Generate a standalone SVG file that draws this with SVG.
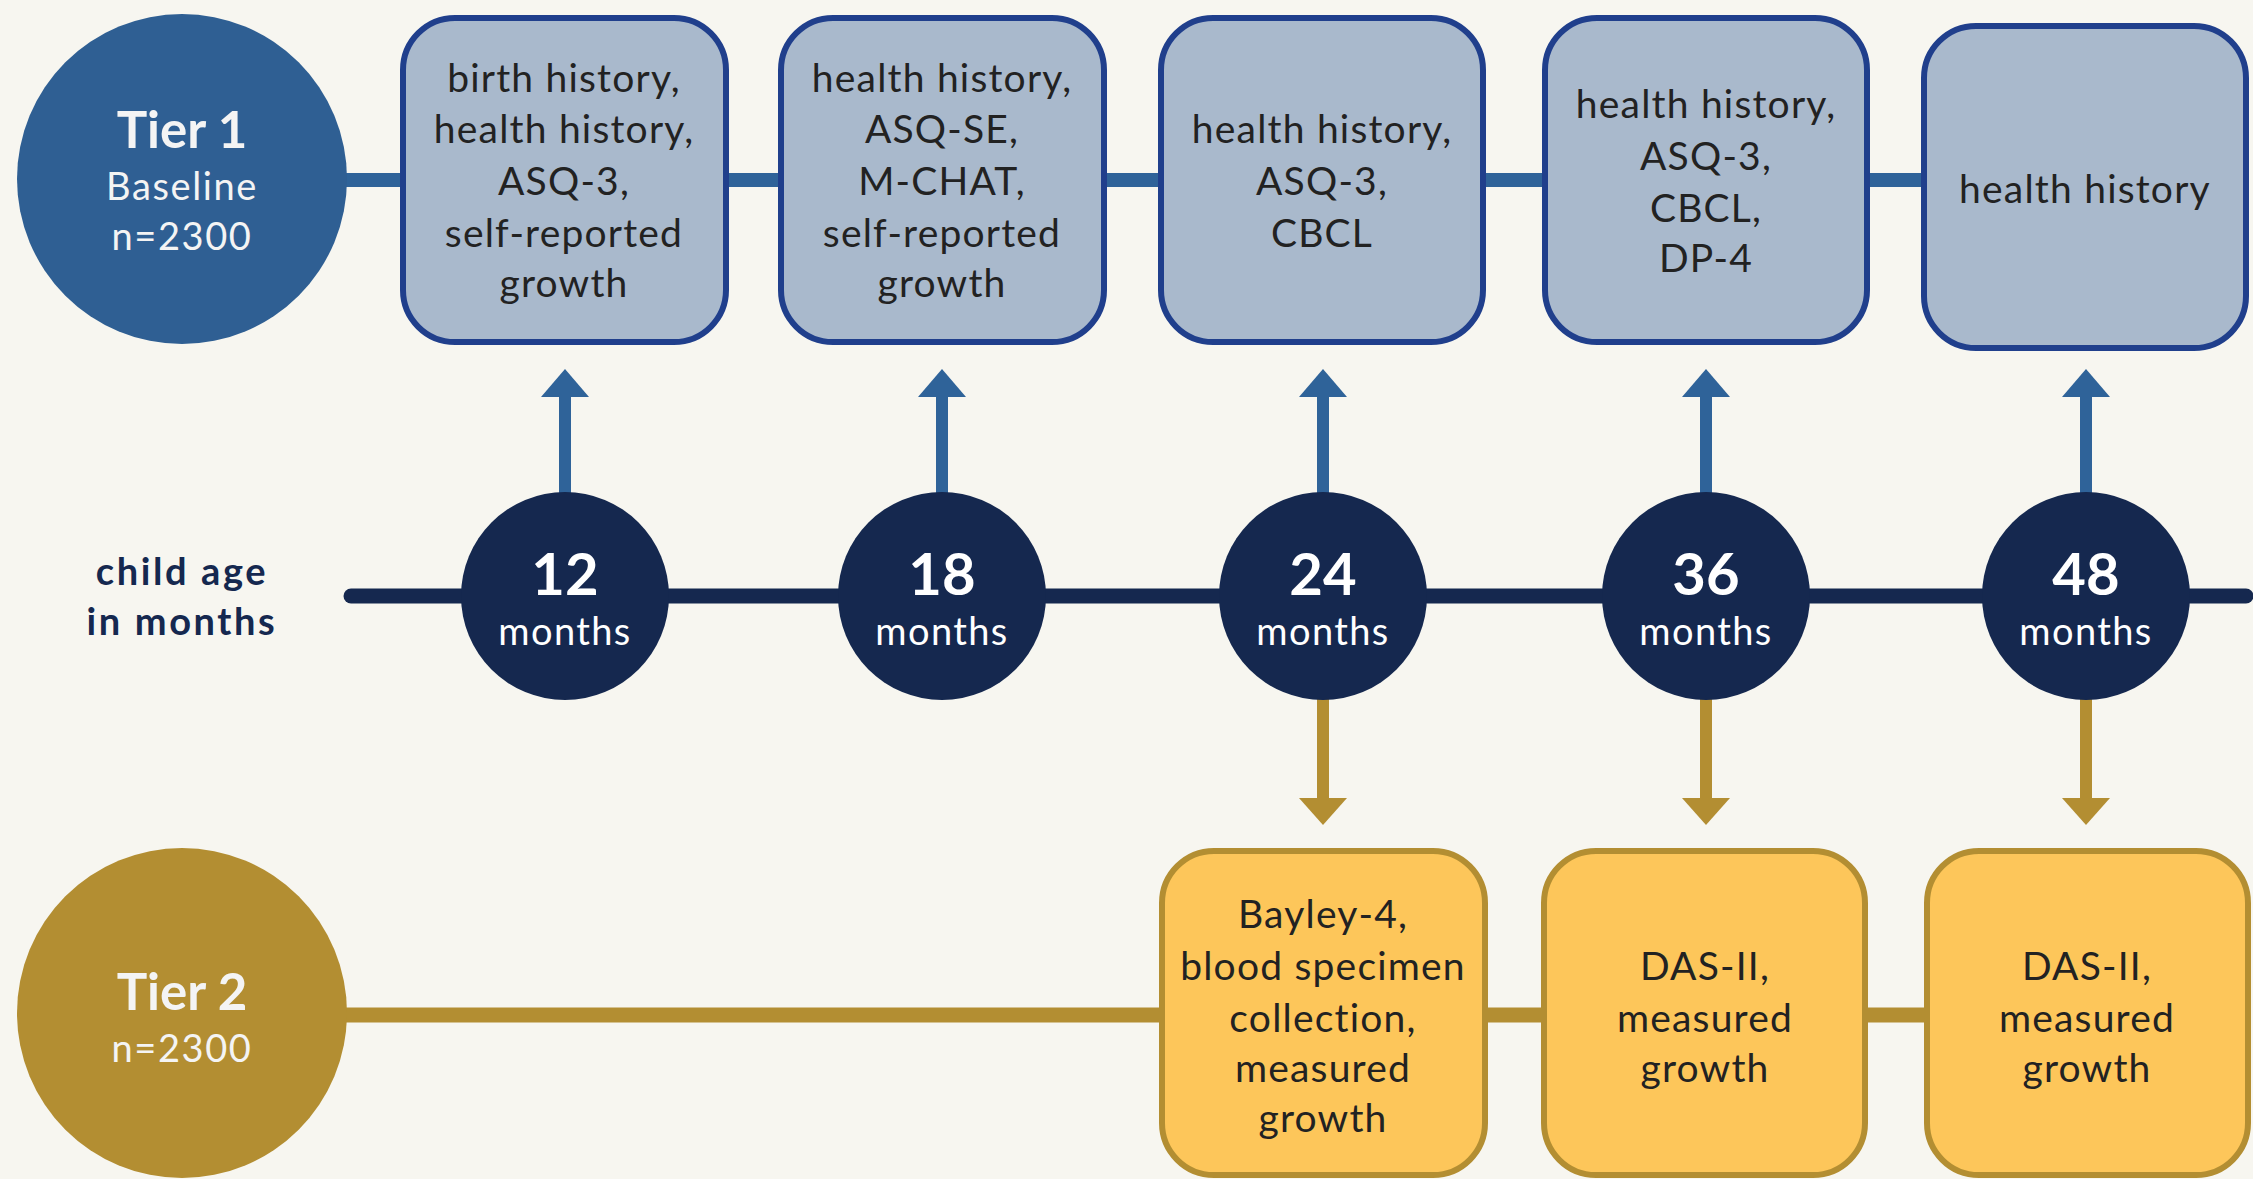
<svg xmlns="http://www.w3.org/2000/svg" width="2253" height="1179" viewBox="0 0 2253 1179">
<defs>
<style>
.bg{fill:#f7f6f0}
.tier1{fill:#2f5f93}
.tier2{fill:#b38e32}
.box1{fill:#a9b9cc;stroke:#203f8c;stroke-width:6}
.box2{fill:#fdc65a;stroke:#b38e32;stroke-width:6}
.age{fill:#15284f}
.t{font-family:Lato,"Liberation Sans",sans-serif;font-size:39px;letter-spacing:1.2px;fill:#222;text-anchor:middle}
.tw{font-family:Lato,"Liberation Sans",sans-serif;fill:#f4f4f4;text-anchor:middle}
.big{font-size:51px;font-weight:bold}
.sm{font-size:38px;letter-spacing:1.6px}
.num{font-family:Lato,"Liberation Sans",sans-serif;font-size:58px;font-weight:bold;fill:#fff;text-anchor:middle}
.mo{font-family:Lato,"Liberation Sans",sans-serif;font-size:38px;letter-spacing:1.4px;fill:#fff;text-anchor:middle}
.lbl{font-family:Lato,"Liberation Sans",sans-serif;font-size:38px;letter-spacing:2.6px;font-weight:bold;fill:#15284f;text-anchor:middle}
.upl{stroke:#2f6399;stroke-width:12}
.upa{fill:#2f6399}
.dnl{stroke:#b38e32;stroke-width:12}
.dna{fill:#b38e32}
</style>
</defs>
<rect class="bg" x="0" y="0" width="2253" height="1179"/>
<g id="connectors">
<line x1="340" y1="180" x2="1925" y2="180" stroke="#2f6399" stroke-width="14"/>
<line x1="340" y1="1015" x2="1928" y2="1015" stroke="#b38e32" stroke-width="15"/>
<line x1="351" y1="596" x2="2246" y2="596" stroke="#15284f" stroke-width="15" stroke-linecap="round"/>
<line class="upl" x1="565" y1="495" x2="565" y2="395"/><polygon class="upa" points="541,397 589,397 565,369"/>
<line class="upl" x1="942" y1="495" x2="942" y2="395"/><polygon class="upa" points="918,397 966,397 942,369"/>
<line class="upl" x1="1323" y1="495" x2="1323" y2="395"/><polygon class="upa" points="1299,397 1347,397 1323,369"/>
<line class="upl" x1="1706" y1="495" x2="1706" y2="395"/><polygon class="upa" points="1682,397 1730,397 1706,369"/>
<line class="upl" x1="2086" y1="495" x2="2086" y2="395"/><polygon class="upa" points="2062,397 2110,397 2086,369"/>
<line class="dnl" x1="1323" y1="697" x2="1323" y2="800"/><polygon class="dna" points="1299,798 1347,798 1323,825"/>
<line class="dnl" x1="1706" y1="697" x2="1706" y2="800"/><polygon class="dna" points="1682,798 1730,798 1706,825"/>
<line class="dnl" x1="2086" y1="697" x2="2086" y2="800"/><polygon class="dna" points="2062,798 2110,798 2086,825"/>
</g>
<g id="tier1">
<circle class="tier1" cx="182" cy="179" r="165"/>
<text class="tw big" x="182" y="148">Tier 1</text>
<text class="tw sm" x="182" y="200">Baseline</text>
<text class="tw sm" x="182" y="250">n=2300</text>
</g>
<g id="tier2">
<circle class="tier2" cx="182" cy="1013" r="165"/>
<text class="tw big" x="182" y="1010" fill="#fdf3dc">Tier 2</text>
<text class="tw sm" x="182" y="1062">n=2300</text>
</g>
<g id="age-label">
<text class="lbl" x="182" y="585">child age</text>
<text class="lbl" x="182" y="635">in months</text>
</g>
<g id="m12"><circle class="age" cx="565" cy="596" r="104"/><text class="num" x="565" y="595">12</text><text class="mo" x="565" y="645">months</text></g>
<g id="m18"><circle class="age" cx="942" cy="596" r="104"/><text class="num" x="942" y="595">18</text><text class="mo" x="942" y="645">months</text></g>
<g id="m24"><circle class="age" cx="1323" cy="596" r="104"/><text class="num" x="1323" y="595">24</text><text class="mo" x="1323" y="645">months</text></g>
<g id="m36"><circle class="age" cx="1706" cy="596" r="104"/><text class="num" x="1706" y="595">36</text><text class="mo" x="1706" y="645">months</text></g>
<g id="m48"><circle class="age" cx="2086" cy="596" r="104"/><text class="num" x="2086" y="595">48</text><text class="mo" x="2086" y="645">months</text></g>
<g id="t1-12">
<rect class="box1" x="403" y="18" width="323" height="324" rx="52"/>
<text class="t" x="564" y="92">birth history,</text>
<text class="t" x="564" y="143">health history,</text>
<text class="t" x="564" y="195">ASQ-3,</text>
<text class="t" x="564" y="247">self-reported</text>
<text class="t" x="564" y="297">growth</text>
</g>
<g id="t1-18">
<rect class="box1" x="781" y="18" width="323" height="324" rx="52"/>
<text class="t" x="942" y="92">health history,</text>
<text class="t" x="942" y="143">ASQ-SE,</text>
<text class="t" x="942" y="195">M-CHAT,</text>
<text class="t" x="942" y="247">self-reported</text>
<text class="t" x="942" y="297">growth</text>
</g>
<g id="t1-24">
<rect class="box1" x="1161" y="18" width="322" height="324" rx="52"/>
<text class="t" x="1322" y="143">health history,</text>
<text class="t" x="1322" y="195">ASQ-3,</text>
<text class="t" x="1322" y="247">CBCL</text>
</g>
<g id="t1-36">
<rect class="box1" x="1545" y="18" width="322" height="324" rx="52"/>
<text class="t" x="1706" y="118">health history,</text>
<text class="t" x="1706" y="170">ASQ-3,</text>
<text class="t" x="1706" y="222">CBCL,</text>
<text class="t" x="1706" y="272">DP-4</text>
</g>
<g id="t1-48">
<rect class="box1" x="1924" y="26" width="322" height="322" rx="52"/>
<text class="t" x="2085" y="203">health history</text>
</g>
<g id="t2-24">
<rect class="box2" x="1162" y="851" width="323" height="324" rx="52"/>
<text class="t" x="1323" y="928">Bayley-4,</text>
<text class="t" x="1323" y="980">blood specimen</text>
<text class="t" x="1323" y="1032">collection,</text>
<text class="t" x="1323" y="1082">measured</text>
<text class="t" x="1323" y="1132">growth</text>
</g>
<g id="t2-36">
<rect class="box2" x="1544" y="851" width="321" height="324" rx="52"/>
<text class="t" x="1705" y="980">DAS-II,</text>
<text class="t" x="1705" y="1032">measured</text>
<text class="t" x="1705" y="1082">growth</text>
</g>
<g id="t2-48">
<rect class="box2" x="1927" y="851" width="321" height="324" rx="52"/>
<text class="t" x="2087" y="980">DAS-II,</text>
<text class="t" x="2087" y="1032">measured</text>
<text class="t" x="2087" y="1082">growth</text>
</g>
</svg>
